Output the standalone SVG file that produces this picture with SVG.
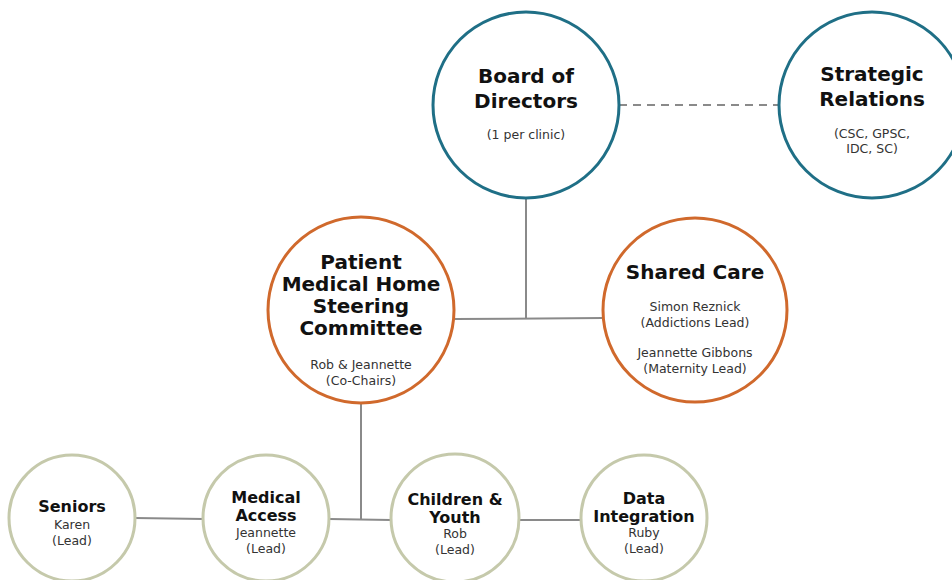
<svg xmlns="http://www.w3.org/2000/svg" width="952" height="580" viewBox="0 0 952 580">
<style>
.bg{fill:#ffffff}
.teal{fill:#ffffff;stroke:#1f6f86;stroke-width:3}
.orange{fill:#ffffff;stroke:#d0692c;stroke-width:3}
.sage{fill:#ffffff;stroke:#c5c9ab;stroke-width:3}
.ln{stroke:#8a8a8a;stroke-width:2;fill:none}
.dash{stroke:#8a8a8a;stroke-width:2;fill:none;stroke-dasharray:8 6}
text{font-family:"DejaVu Sans","Liberation Sans",sans-serif;text-anchor:middle;fill:#111111}
.t1{font-size:20px;font-weight:bold}
.t2{font-size:16px;font-weight:bold}
.s{font-size:12.5px;fill:#333333}
</style>
<rect class="bg" width="952" height="580"/>
<g id="connectors">
<line class="dash" x1="619" y1="105" x2="779" y2="105"/>
<line class="ln" x1="526" y1="198" x2="526" y2="319"/>
<line class="ln" x1="455" y1="319" x2="603" y2="318"/>
<line class="ln" x1="361" y1="404" x2="361" y2="520"/>
<line class="ln" x1="329" y1="519" x2="391" y2="520"/>
<line class="ln" x1="135" y1="518" x2="204" y2="519"/>
<line class="ln" x1="518" y1="520" x2="582" y2="520"/>
</g>
<g id="board">
<circle class="teal" cx="526" cy="105" r="93"/>
<text class="t1" x="526" y="83">Board of</text>
<text class="t1" x="526" y="108">Directors</text>
<text class="s" x="526" y="139">(1 per clinic)</text>
</g>
<g id="strategic">
<circle class="teal" cx="872" cy="105" r="93"/>
<text class="t1" x="872" y="81">Strategic</text>
<text class="t1" x="872" y="106">Relations</text>
<text class="s" x="872" y="138">(CSC, GPSC,</text>
<text class="s" x="872" y="153">IDC, SC)</text>
</g>
<g id="pmh">
<circle class="orange" cx="361" cy="310" r="93"/>
<text class="t1" x="361" y="269">Patient</text>
<text class="t1" x="361" y="291">Medical Home</text>
<text class="t1" x="361" y="313">Steering</text>
<text class="t1" x="361" y="335">Committee</text>
<text class="s" x="361" y="369">Rob &amp; Jeannette</text>
<text class="s" x="361" y="385">(Co-Chairs)</text>
</g>
<g id="shared">
<circle class="orange" cx="695" cy="310" r="92"/>
<text class="t1" x="695" y="279">Shared Care</text>
<text class="s" x="695" y="311">Simon Reznick</text>
<text class="s" x="695" y="327">(Addictions Lead)</text>
<text class="s" x="695" y="357">Jeannette Gibbons</text>
<text class="s" x="695" y="373">(Maternity Lead)</text>
</g>
<g id="seniors">
<circle class="sage" cx="72" cy="518" r="63"/>
<text class="t2" x="72" y="512">Seniors</text>
<text class="s" x="72" y="529">Karen</text>
<text class="s" x="72" y="545">(Lead)</text>
</g>
<g id="medical">
<circle class="sage" cx="266" cy="518" r="63"/>
<text class="t2" x="266" y="503">Medical</text>
<text class="t2" x="266" y="521">Access</text>
<text class="s" x="266" y="537">Jeannette</text>
<text class="s" x="266" y="553">(Lead)</text>
</g>
<g id="children">
<circle class="sage" cx="455" cy="518" r="64"/>
<text class="t2" x="455" y="505">Children &amp;</text>
<text class="t2" x="455" y="523">Youth</text>
<text class="s" x="455" y="538">Rob</text>
<text class="s" x="455" y="554">(Lead)</text>
</g>
<g id="data">
<circle class="sage" cx="644" cy="518" r="63"/>
<text class="t2" x="644" y="504">Data</text>
<text class="t2" x="644" y="522">Integration</text>
<text class="s" x="644" y="537">Ruby</text>
<text class="s" x="644" y="553">(Lead)</text>
</g>
</svg>
